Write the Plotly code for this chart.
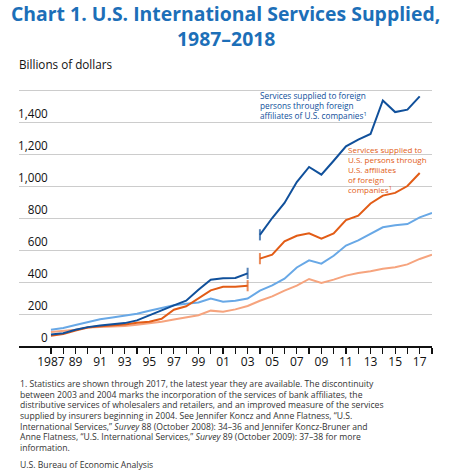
import plotly.graph_objects as go

FONT = "Open Sans"

years_a = list(range(1987, 2004))
years_b = list(range(2004, 2018))
years_all = list(range(1987, 2019))

# Services supplied to foreign persons through foreign affiliates of U.S. companies
fa_us_a = [72, 80, 101, 118, 128, 137, 143, 160, 189, 223, 254, 283, 352, 414, 423, 425, 454]
fa_us_b = [695, 800, 894, 1025, 1119, 1071, 1158, 1248, 1290, 1325, 1535, 1462, 1477, 1560]

# Services supplied to U.S. persons through U.S. affiliates of foreign companies
us_fa_a = [64, 75, 97, 116, 123, 128, 135, 145, 152, 170, 227, 248, 300, 348, 370, 371, 377]
us_fa_b = [546, 571, 654, 689, 704, 671, 703, 787, 815, 891, 940, 957, 1000, 1081]

# Services exports and imports
exports = [102, 113, 131, 150, 167, 178, 188, 201, 220, 239, 254, 264, 272, 296, 277, 283, 297,
           346, 379, 421, 491, 535, 515, 564, 628, 660, 702, 742, 754, 762, 804, 831]
imports = [88, 95, 102, 115, 118, 120, 125, 133, 141, 152, 166, 180, 192, 221, 214, 229, 250,
           283, 310, 346, 377, 419, 394, 415, 440, 456, 467, 483, 492, 510, 544, 571]

y_ticks = [0, 200, 400, 600, 800, 1000, 1200, 1400, 1600]
y_ticktext = ["\u2007\u2007\u2007\u20080", "\u2007\u2008200", "\u2007\u2008400", "\u2007\u2008600",
              "\u2007\u2008800", "1,000", "1,200", "1,400", "1,600"]
x_ticks = [y for y in years_all if y % 2 == 1]
x_ticktext = ["1987" if y == 1987 else f"{y % 100:02d}" for y in x_ticks]
x_minor = [y for y in years_all if y % 2 == 0]

label_db = ["Services supplied to foreign", "persons through foreign",
            "affiliates of U.S. companies<sup>1</sup>"]
label_or = ["Services supplied to", "U.S. persons through", "U.S. affiliates",
            "of foreign", "companies<sup>1</sup>"]
label_ex = ["Services", "exports"]
label_im = ["Services", "imports"]

title_lines = ["Chart 1. U.S. International Services Supplied,", "1987–2018"]
foot_lines = [
    "1. Statistics are shown through 2017, the latest year they are available. The discontinuity",
    "between 2003 and 2004 marks the incorporation of the services of bank affiliates, the",
    "distributive services of wholesalers and retailers, and an improved measure of the services",
    "supplied by insurers beginning in 2004. See Jennifer Koncz and Anne Flatness, “U.S.",
    "International Services,” <i>Survey</i> 88 (October 2008): 34–36 and Jennifer Koncz-Bruner and",
    "Anne Flatness, “U.S. International Services,” <i>Survey</i> 89 (October 2009): 37–38 for more",
    "information.",
]
source = "U.S. Bureau of Economic Analysis"

C_DB = "rgb(16,80,155)"
C_OR = "rgb(226,92,22)"
C_LB = "rgb(104,168,230)"
C_LO = "rgb(246,164,126)"
C_TITLE = "rgb(28,111,184)"

W, H = 452, 474
ML, MR, MT, MB = 19, 20, 74, 128
PH = H - MT - MB

def py(p):
    """figure pixel row -> paper y"""
    return 1 - (p - MT) / PH

fig = go.Figure()

def seg(x, y, color, start_tick=False, end_tick=False):
    sizes = [0] * len(x)
    if start_tick:
        sizes[0] = 8
    if end_tick:
        sizes[-1] = 8
    fig.add_trace(go.Scatter(
        x=x, y=y, mode="lines+markers",
        line=dict(color=color, width=2),
        marker=dict(symbol="line-ns", size=sizes, line=dict(color=color, width=2)),
        showlegend=False, hoverinfo="skip", cliponaxis=False))

seg(years_all, imports, C_LO)
seg(years_all, exports, C_LB)
seg(years_a, us_fa_a, C_OR, end_tick=True)
seg(years_b, us_fa_b, C_OR, start_tick=True)
seg(years_a, fa_us_a, C_DB, end_tick=True)
seg(years_b, fa_us_b, C_DB, start_tick=True)

def line_labels(lines, x, y_first, dy, color, size, anchor):
    for i, t in enumerate(lines):
        fig.add_annotation(x=x, y=y_first, xref="x", yref="y", xanchor=anchor, yanchor="middle",
                           yshift=-i * dy, text=t, showarrow=False, borderpad=0,
                           font=dict(family=FONT, size=size, color=color))

line_labels(label_db, 2003.9, 1567, 10.05, C_DB, 8.25, "left")
line_labels(label_or, 2011.05, 1229, 10.0, C_OR, 8.0, "left")
line_labels(label_ex, 2018.05, 712, 11.2, C_LB, 9.2, "right")
line_labels(label_im, 2018.05, 437, 11.2, C_LO, 9.2, "right")

# title
for i, t in enumerate(title_lines):
    fig.add_annotation(x=0.5, xref="paper", xanchor="center", y=py(13.5 + 24.5 * i), yref="paper",
                       yanchor="middle", text=f"<b>{t}</b>", showarrow=False, borderpad=0,
                       font=dict(family=FONT, size=19.4, color=C_TITLE))

fig.add_annotation(x=0, xref="paper", xanchor="left", xshift=-1, y=py(64), yref="paper",
                   yanchor="middle", text="Billions of dollars", showarrow=False, borderpad=0,
                   font=dict(family=FONT, size=11.7, color="#111"))

for i, t in enumerate(foot_lines):
    fig.add_annotation(x=0, xref="paper", xanchor="left", y=py(384 + 10.67 * i),
                       yref="paper", yanchor="middle", text=t, showarrow=False, borderpad=0,
                       font=dict(family=FONT, size=8.65, color="#333"))
fig.add_annotation(x=0, xref="paper", xanchor="left", y=py(465), yref="paper",
                   yanchor="middle", text=source, showarrow=False, borderpad=0,
                   font=dict(family=FONT, size=8.65, color="#333"))

fig.update_layout(
    width=W, height=H,
    margin=dict(l=ML, r=MR, t=MT, b=MB),
    paper_bgcolor="white", plot_bgcolor="white",
    font=dict(family=FONT, color="#222"),
    xaxis=dict(range=[1984.4, 2018.0], tickmode="array", tickvals=x_ticks, ticktext=x_ticktext,
               ticks="outside", ticklen=6, tickwidth=1.2, tickcolor="#111",
               minor=dict(tickmode="array", tickvals=x_minor, ticks="outside", ticklen=6,
                          tickwidth=1.2, tickcolor="#111", showgrid=False),
               showline=True, linecolor="#111", linewidth=1.5, showgrid=False, zeroline=False,
               ticklabelstandoff=-2,
               tickfont=dict(family=FONT, size=12, color="#111"), fixedrange=True),
    yaxis=dict(range=[0, 1700], tickvals=y_ticks, ticktext=y_ticktext,
               ticklabelposition="inside top", ticklabelstandoff=-4,
               showgrid=True, gridcolor="#cccccc", gridwidth=1,
               zeroline=False, showline=False, ticks="",
               tickfont=dict(family=FONT, size=11.7, color="#111"), fixedrange=True),
)

fig.write_html("out.html", config={"displayModeBar": False, "staticPlot": True},
               post_script="document.body.style.margin='0';document.body.style.padding='0';")
